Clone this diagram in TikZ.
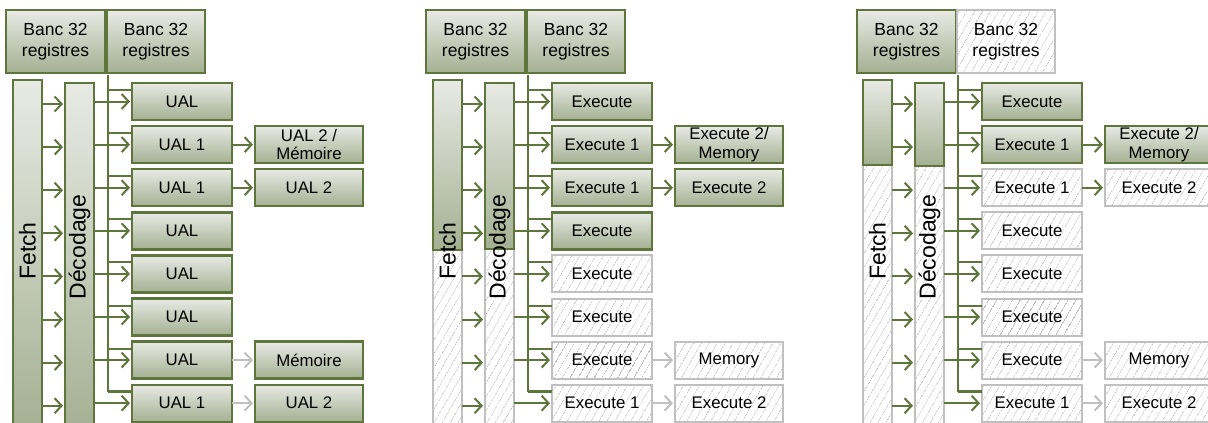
\documentclass[tikz,border=0pt]{standalone}
\usepackage{fontspec}
\setmainfont{Liberation Sans}
\usetikzlibrary{arrows.meta,patterns.meta,calc}
\definecolor{dgreen}{RGB}{94,117,60}
\definecolor{gtop}{RGB}{232,234,228}
\definecolor{gbot}{RGB}{164,176,146}
\definecolor{lgray}{RGB}{192,192,192}
\definecolor{hatch}{RGB}{190,190,190}
\tikzset{
 x=1pt,y=-1pt,
 base/.style={inner sep=0pt,outer sep=0pt,anchor=north west,align=center},
 gbox/.style={base,draw=dgreen,line width=2.4pt,top color=gtop,bottom color=gbot},
 hbox/.style={base,draw=lgray,line width=2pt,pattern={Lines[angle=60,distance=6.5pt,line width=0.8pt]},pattern color=hatch},
 c1/.style={minimum width=100pt,minimum height=37pt,font=\fontsize{16.8}{18.5}\selectfont},
 c2/.style={minimum width=108pt,minimum height=37pt,font=\fontsize{16.8}{18.5}\selectfont},
 bank/.style={minimum width=99pt,minimum height=63pt,font=\fontsize{17.5}{21}\selectfont},
 bar/.style={minimum width=29pt},
 gline/.style={draw=dgreen,line width=2pt},
 garrow/.style={gline,-{Straight Barb[length=7pt,width=15pt]},shorten >=2pt},
 larrow/.style={draw=lgray,line width=2pt,-{Straight Barb[length=7pt,width=15pt]},shorten >=2pt},
 vlabel/.style={rotate=90,font=\fontsize{23}{24}\selectfont,inner sep=0pt},
}
\newcommand\mywires[1]{%
 \coordinate (#1top) at (108.3,75);
 \draw[gline] (#1top) |- ($(#1u8.north west)+(0,6)$);
 \foreach \i in {1,...,8}{%
  \coordinate (#1t\i) at ($(#1u\i.north west)+(0,7)$);
  \coordinate (#1y\i) at ($(#1u\i.west)+(0,2.5)$);
  \draw[gline] (#1top |- #1t\i) -- (#1t\i);
  \draw[garrow] (#1d.east |- #1u\i.west) -- (#1u\i.west);
  \draw[garrow] (#1f.east |- #1y\i) -- (#1d.west |- #1y\i);
 }%
}
\begin{document}
\begin{tikzpicture}
\useasboundingbox (0,0) rectangle (1208,423);
\clip (0,0) rectangle (1208,423);
% ---------------- panel 1
\begin{scope}
\node[gbox,bank] (pab1) at (6,10) {Banc 32\\registres};
\node[gbox,bank,minimum width=98pt] (pab2) at (107,10) {Banc 32\\registres};
\node[gbox,bar,minimum height=350pt] (paf) at (13,80) {};
\node[gbox,bar,minimum height=350pt] (pad) at (65,83) {};
\node[vlabel] (pafl) at (27.5,251) {Fetch};
\node[vlabel] (padl) at (79.5,247) {Décodage};
\node[gbox,c1] (pau1) at (132,83) {UAL};
\node[gbox,c1] (pau2) at (132,126.1) {UAL 1};
\node[gbox,c1] (pau3) at (132,169.2) {UAL 1};
\node[gbox,c1] (pau4) at (132,212.3) {UAL};
\node[gbox,c1] (pau5) at (132,255.4) {UAL};
\node[gbox,c1] (pau6) at (132,298.5) {UAL};
\node[gbox,c1] (pau7) at (132,341.6) {UAL};
\node[gbox,c1] (pau8) at (132,384.7) {UAL 1};
\node[gbox,c2] (pav2) at (255,126.1) {UAL 2 /\\Mémoire};
\node[gbox,c2] (pav3) at (255,169.2) {UAL 2};
\node[gbox,c2] (pav7) at (255,341.6) {Mémoire};
\node[gbox,c2] (pav8) at (255,384.7) {UAL 2};
\mywires{pa}
\draw[garrow] (pau2.east) -- (pav2.west);
\draw[garrow] (pau3.east) -- (pav3.west);
\draw[larrow] (pau7.east) -- (pav7.west);
\draw[larrow] (pau8.east) -- (pav8.west);
\end{scope}
% ---------------- panel 2
\begin{scope}[xshift=420pt]
\node[gbox,bank] (pbb1) at (6,10) {Banc 32\\registres};
\node[gbox,bank,minimum width=98pt] (pbb2) at (107,10) {Banc 32\\registres};
\node[hbox,bar,minimum height=350pt] (pbf) at (13,80) {};
\node[hbox,bar,minimum height=350pt] (pbd) at (65,83) {};
\node[gbox,bar,minimum height=170pt] (pbfg) at (13,80) {};
\node[gbox,bar,minimum height=166pt] (pbdg) at (65,83) {};
\node[vlabel] (pbfl) at (27.5,251) {Fetch};
\node[vlabel] (pbdl) at (79.5,247) {Décodage};
\node[gbox,c1] (pbu1) at (132,83) {Execute};
\node[gbox,c1] (pbu2) at (132,126.1) {Execute 1};
\node[gbox,c1] (pbu3) at (132,169.2) {Execute 1};
\node[gbox,c1] (pbu4) at (132,212.3) {Execute};
\node[hbox,c1] (pbu5) at (132,255.4) {Execute};
\node[hbox,c1] (pbu6) at (132,298.5) {Execute};
\node[hbox,c1] (pbu7) at (132,341.6) {Execute};
\node[hbox,c1] (pbu8) at (132,384.7) {Execute 1};
\node[gbox,c2] (pbv2) at (255,126.1) {Execute 2/\\Memory};
\node[gbox,c2] (pbv3) at (255,169.2) {Execute 2};
\node[hbox,c2] (pbv7) at (255,341.6) {Memory};
\node[hbox,c2] (pbv8) at (255,384.7) {Execute 2};
\mywires{pb}
\draw[garrow] (pbu2.east) -- (pbv2.west);
\draw[garrow] (pbu3.east) -- (pbv3.west);
\draw[larrow] (pbu7.east) -- (pbv7.west);
\draw[larrow] (pbu8.east) -- (pbv8.west);
\end{scope}
% ---------------- panel 3
\begin{scope}[xshift=850pt]
\node[gbox,bank] (pcb1) at (7,10) {Banc 32\\registres};
\node[hbox,bank,minimum width=98pt] (pcb2) at (107,10) {Banc 32\\registres};
\node[hbox,bar,minimum height=350pt] (pcf) at (13,80) {};
\node[hbox,bar,minimum height=350pt] (pcd) at (65,83) {};
\node[gbox,bar,minimum height=85pt] (pcfg) at (13,80) {};
\node[gbox,bar,minimum height=83pt] (pcdg) at (65,83) {};
\node[vlabel] (pcfl) at (27.5,251) {Fetch};
\node[vlabel] (pcdl) at (79.5,247) {Décodage};
\node[gbox,c1] (pcu1) at (132,83) {Execute};
\node[gbox,c1] (pcu2) at (132,126.1) {Execute 1};
\node[hbox,c1] (pcu3) at (132,169.2) {Execute 1};
\node[hbox,c1] (pcu4) at (132,212.3) {Execute};
\node[hbox,c1] (pcu5) at (132,255.4) {Execute};
\node[hbox,c1] (pcu6) at (132,298.5) {Execute};
\node[hbox,c1] (pcu7) at (132,341.6) {Execute};
\node[hbox,c1] (pcu8) at (132,384.7) {Execute 1};
\node[gbox,c2] (pcv2) at (255,126.1) {Execute 2/\\Memory};
\node[hbox,c2] (pcv3) at (255,169.2) {Execute 2};
\node[hbox,c2] (pcv7) at (255,341.6) {Memory};
\node[hbox,c2] (pcv8) at (255,384.7) {Execute 2};
\mywires{pc}
\draw[garrow] (pcu2.east) -- (pcv2.west);
\draw[garrow] (pcu3.east) -- (pcv3.west);
\draw[larrow] (pcu7.east) -- (pcv7.west);
\draw[larrow] (pcu8.east) -- (pcv8.west);
\end{scope}
\end{tikzpicture}
\end{document}
